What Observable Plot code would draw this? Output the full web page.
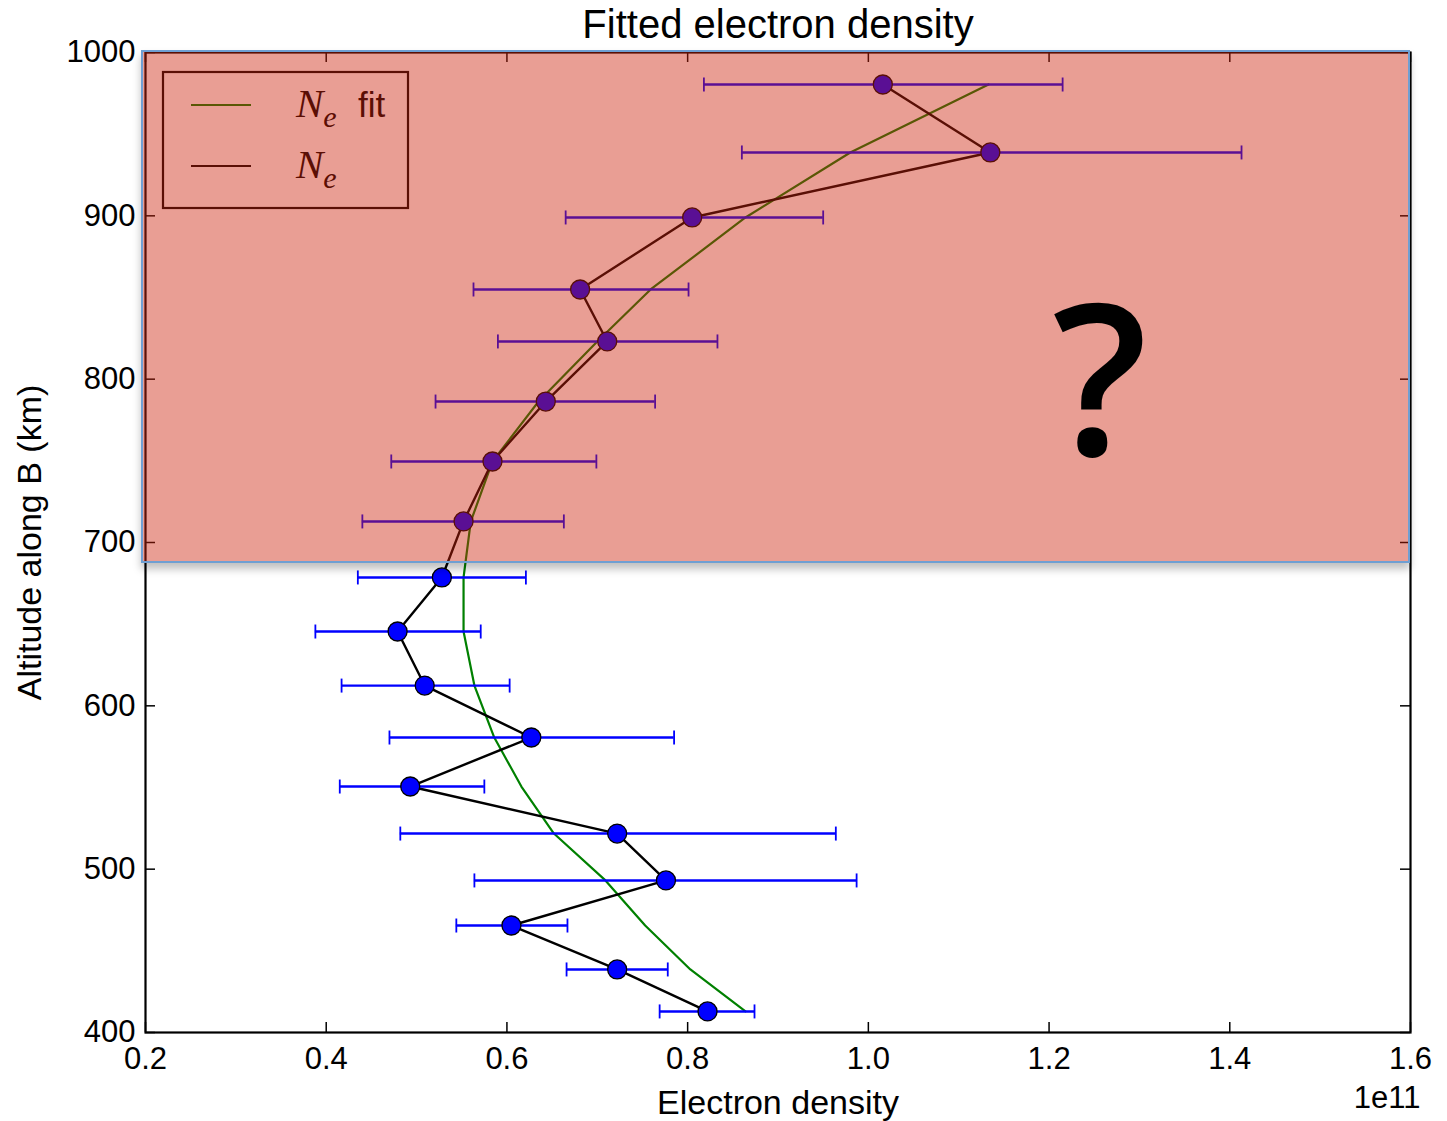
<!DOCTYPE html>
<html><head><meta charset="utf-8">
<script src="https://cdn.jsdelivr.net/npm/d3@7"></script>
<script src="https://cdn.jsdelivr.net/npm/@observablehq/plot@0.6"></script>
<style>
body{margin:0;background:#fff;font-family:"Liberation Sans",Arial,sans-serif;}
#wrap{position:relative;width:1447px;height:1121px;overflow:hidden;}
#wrap svg{display:block;}
</style></head><body><div id="wrap"></div>
<script>
// Altitude along B (km)
const altitude = [412.9, 438.6, 465.5, 493.1, 521.8, 550.6, 580.6, 612.4, 645.5, 678.6, 712.9, 749.6, 786.3, 823.1, 854.9, 899.0, 938.8, 980.4];
// Measured electron density (×1e11)
const density  = [0.822, 0.722, 0.605, 0.776, 0.722, 0.493, 0.627, 0.509, 0.479, 0.528, 0.552, 0.584, 0.643, 0.711, 0.681, 0.805, 1.135, 1.016];
// Error bar extents
const errLow   = [0.769, 0.666, 0.544, 0.564, 0.482, 0.415, 0.470, 0.417, 0.388, 0.435, 0.440, 0.472, 0.521, 0.590, 0.563, 0.665, 0.860, 0.818];
const errHigh  = [0.874, 0.778, 0.667, 0.987, 0.964, 0.575, 0.785, 0.603, 0.571, 0.621, 0.663, 0.699, 0.764, 0.833, 0.801, 0.950, 1.413, 1.215];
// Fitted electron density
const fitDensity = [0.864, 0.803, 0.753, 0.709, 0.652, 0.616, 0.586, 0.564, 0.552, 0.552, 0.560, 0.584, 0.635, 0.700, 0.759, 0.864, 0.980, 1.133];

const xTicks = [0.2, 0.4, 0.6, 0.8, 1.0, 1.2, 1.4, 1.6];
const yTicks = [400, 500, 600, 700, 800, 900, 1000];
const overlayDensity = [0.2, 1.6];
const overlayAltitude = [687, 1000];
const questionPos = {x: 1.257, y: 753};

const data = altitude.map((a, i) => ({alt: a, ne: density[i], lo: errLow[i], hi: errHigh[i], fit: fitDensity[i]}));

const W = 1447, H = 1121, mL = 145, mR = 37, mT = 52, mB = 89;
const pw = W - mL - mR, ph = H - mT - mB;
const cap = {draw(ctx) { ctx.moveTo(0, -7); ctx.lineTo(0, 7); }};

const plot = Plot.plot({
  width: W, height: H, marginLeft: mL, marginRight: mR, marginTop: mT, marginBottom: mB,
  style: {fontFamily: "'Liberation Sans', Arial, sans-serif", background: "white", color: "black", overflow: "visible"},
  x: {domain: [0.2, 1.6]},
  y: {domain: [400, 1000]},
  marks: [
    Plot.axisX(xTicks, {tickSize: 0, tickPadding: 14, tickFormat: d3.format(".1f"), fontSize: 31, label: null}),
    Plot.axisY(yTicks, {tickSize: 0, tickPadding: 10, tickFormat: d3.format("d"), fontSize: 31, label: null}),
    Plot.tickX(xTicks, {x: d => d, insetTop: ph - 10, stroke: "black", strokeWidth: 1.5}),
    Plot.tickX(xTicks, {x: d => d, insetBottom: ph - 10, stroke: "black", strokeWidth: 1.5}),
    Plot.tickY(yTicks, {y: d => d, insetRight: pw - 10, stroke: "black", strokeWidth: 1.5}),
    Plot.tickY(yTicks, {y: d => d, insetLeft: pw - 10, stroke: "black", strokeWidth: 1.5}),
    Plot.line(data, {x: "fit", y: "alt", stroke: "#008000", strokeWidth: 2.2}),
    Plot.line(data, {x: "ne", y: "alt", stroke: "black", strokeWidth: 2.4}),
    Plot.ruleY(data, {y: "alt", x1: "lo", x2: "hi", stroke: "blue", strokeWidth: 2.4}),
    Plot.dot(data, {x: "lo", y: "alt", symbol: cap, fill: "none", stroke: "blue", strokeWidth: 1.8}),
    Plot.dot(data, {x: "hi", y: "alt", symbol: cap, fill: "none", stroke: "blue", strokeWidth: 1.8}),
    Plot.dot(data, {x: "ne", y: "alt", r: 9.5, fill: "blue", stroke: "black", strokeWidth: 1.3}),
    Plot.frame({stroke: "black", strokeWidth: 2.2}),
    Plot.text(["Fitted electron density"], {frameAnchor: "top", lineAnchor: "middle", dy: -27, fontSize: 40}),
    Plot.text(["Electron density"], {frameAnchor: "bottom", lineAnchor: "middle", dy: 71, fontSize: 34}),
    Plot.text(["1e11"], {frameAnchor: "bottom-right", lineAnchor: "middle", dx: 10, dy: 66, textAnchor: "end", fontSize: 31}),
    Plot.text(["Altitude along B (km)"], {frameAnchor: "left", dx: -115, rotate: -90, textAnchor: "middle", fontSize: 34})
  ]
});

const wrap = document.getElementById("wrap");
wrap.appendChild(plot);

// Legend (inside axes, beneath the overlay)
const svg = d3.select(plot);
const lg = svg.append("g").attr("text-anchor", "start");
const lx = mL + 18, ly = mT + 20;
lg.append("rect").attr("x", lx).attr("y", ly).attr("width", 245).attr("height", 136)
  .attr("fill", "white").attr("stroke", "black").attr("stroke-width", 2.2);
const rows = [{c: "#008000", t: "fit", dy: 33}, {c: "black", t: "", dy: 94}];
rows.forEach(r => {
  lg.append("line").attr("x1", lx + 28).attr("x2", lx + 88).attr("y1", ly + r.dy).attr("y2", ly + r.dy)
    .attr("stroke", r.c).attr("stroke-width", 2.2);
  const t = lg.append("text").attr("x", lx + 133).attr("y", ly + r.dy + 12).attr("text-anchor", "start")
    .attr("font-family", "'Liberation Serif', 'DejaVu Serif', serif").attr("font-size", 41).attr("font-style", "italic").attr("fill", "black");
  t.append("tspan").text("N");
  t.append("tspan").attr("font-size", 30).attr("dy", 10).text("e");
  if (r.t) {
    lg.append("text").attr("x", lx + 195).attr("y", ly + r.dy + 12).attr("text-anchor", "start")
      .attr("font-family", "'Liberation Sans', Arial, sans-serif").attr("font-size", 35).attr("fill", "black").text(r.t);
  }
});

// Overlay box placed via the scales
const sx = plot.scale("x"), sy = plot.scale("y");
const ox1 = sx.apply(overlayDensity[0]) - 4, ox2 = sx.apply(overlayDensity[1]);
const oy1 = sy.apply(overlayAltitude[1]) - 2, oy2 = sy.apply(overlayAltitude[0]);
const ov = document.createElement("div");
Object.assign(ov.style, {
  position: "absolute", left: ox1 + "px", top: oy1 + "px", width: (ox2 - ox1) + "px", height: (oy2 - oy1) + "px",
  boxSizing: "border-box", background: "rgba(205,34,11,0.44)", border: "2px solid #6f9fd2",
  boxShadow: "0 6px 8px rgba(0,0,0,0.25)"
});
wrap.appendChild(ov);

const q = document.createElementNS("http://www.w3.org/2000/svg", "svg");
q.setAttribute("width", W); q.setAttribute("height", H);
Object.assign(q.style, {position: "absolute", left: "0px", top: "0px"});
const qt = document.createElementNS("http://www.w3.org/2000/svg", "text");
qt.setAttribute("x", sx.apply(questionPos.x)); qt.setAttribute("y", sy.apply(questionPos.y));
qt.setAttribute("text-anchor", "middle");
qt.setAttribute("font-family", "'Open Sans', 'Noto Sans', sans-serif");
qt.setAttribute("font-weight", "600");
qt.setAttribute("font-size", "210");
qt.textContent = "?";
q.appendChild(qt);
wrap.appendChild(q);
</script></body></html>
